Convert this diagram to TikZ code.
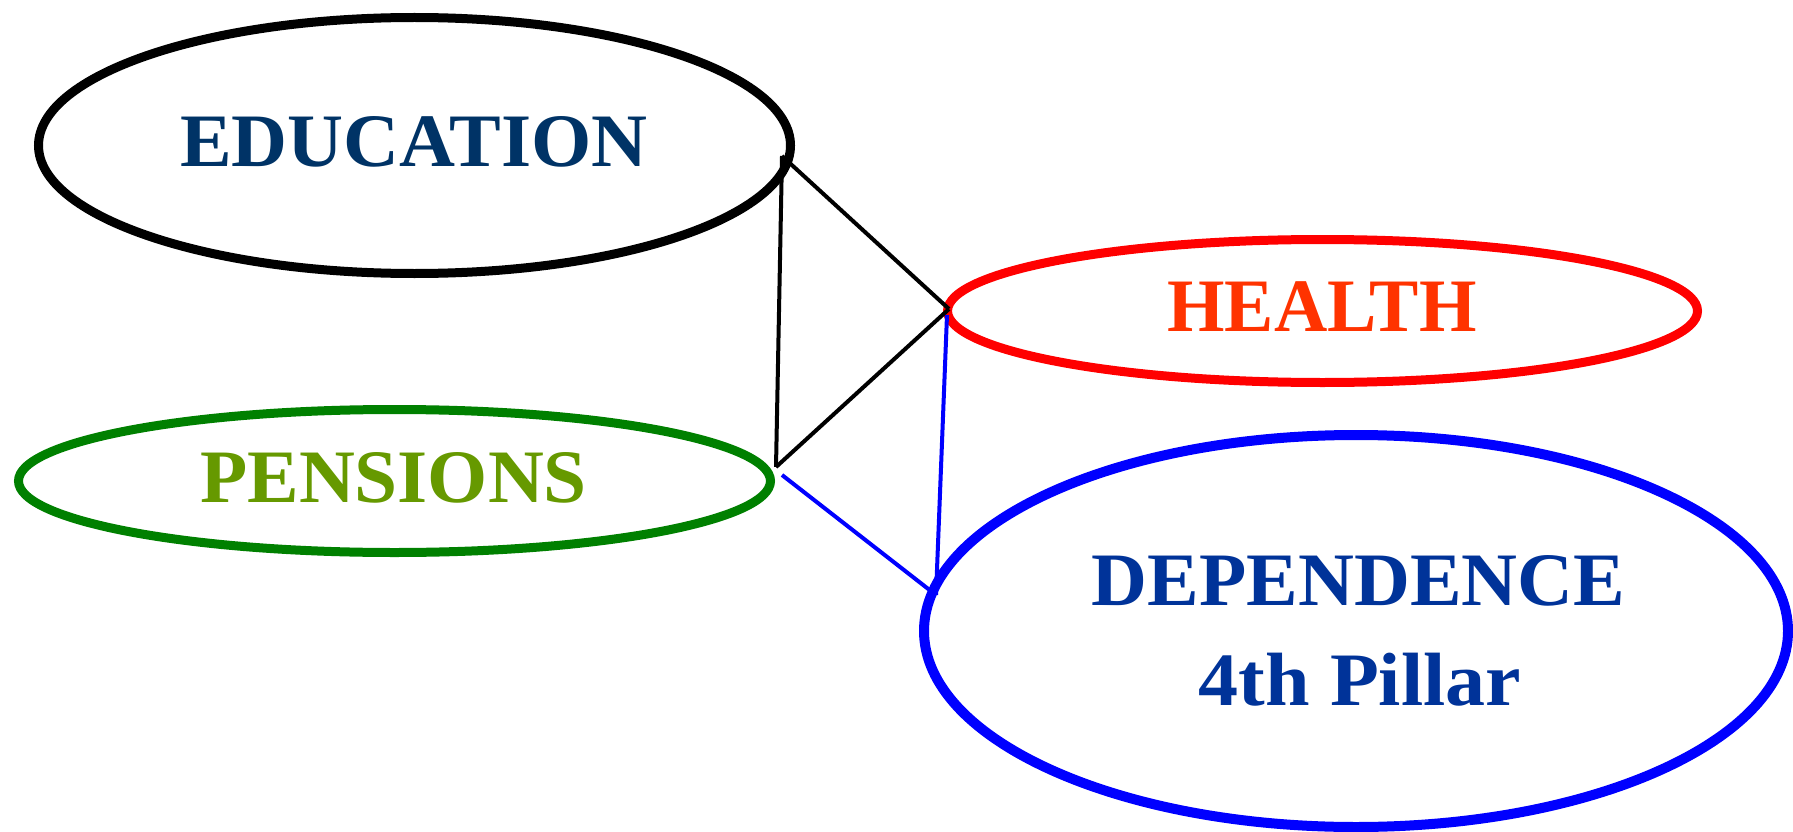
\documentclass[tikz,border=0pt]{standalone}
\usepackage{fontspec}
\usepackage{graphicx}
\setmainfont{Liberation Serif}
\usetikzlibrary{shapes.geometric}
\definecolor{edutext}{HTML}{003366}
\definecolor{healthtext}{HTML}{FF3300}
\definecolor{pentext}{HTML}{669900}
\definecolor{deptext}{HTML}{003399}
\definecolor{healthline}{HTML}{FF0000}
\definecolor{penline}{HTML}{008000}
\definecolor{depline}{HTML}{0000FF}
\tikzset{
  oval/.style={ellipse, draw, line width=9pt, inner sep=0pt},
  lbl/.style={anchor=base, inner sep=0pt, font=\fontsize{75.5}{100}\selectfont\bfseries},
  link/.style={line width=4pt, draw=black},
  bluelink/.style={line width=4pt, draw=depline}
}
\begin{document}
\begin{tikzpicture}[x=1pt,y=-1pt]
\useasboundingbox (0,0) rectangle (1793,832);
% ellipses
\node[oval, draw=black, minimum width=752pt, minimum height=256pt] (edu) at (414.5,145.5) {};
\node[oval, draw=healthline, minimum width=750pt, minimum height=143pt] (hea) at (1322.5,311) {};
\node[oval, draw=penline, minimum width=752pt, minimum height=143pt] (pen) at (394.5,481) {};
\node[oval, draw=depline, line width=10pt, minimum width=864pt, minimum height=392pt] (dep) at (1356,631) {};
% labels
\node[lbl, text=edutext] (edutxt) at (414,166.7) {\scalebox{1.026}[1]{EDUCATION}};
\node[lbl, text=healthtext] (heatxt) at (1322,331.7) {\scalebox{0.978}[1]{HEALTH}};
\node[lbl, text=pentext] (pentxt) at (393.6,502.7) {\scalebox{1.024}[1]{PENSIONS}};
\node[lbl, text=deptext] (deptxt1) at (1358.5,605) {\scalebox{1.025}[1]{DEPENDENCE}};
\node[lbl, text=deptext] (deptxt2) at (1360,705) {\scalebox{1.06}[1]{4th Pillar}};
% connection points
\coordinate (eduP) at (782,156);
\coordinate (heaP) at (949,309);
\coordinate (penP) at (776,467);
\coordinate (penQ) at (782,475);
\coordinate (heaQ) at (947,315);
\coordinate (depP) at (936,595);
% connectors
\draw[link] (eduP) -- (heaP);
\draw[link] (eduP) -- (penP);
\draw[link] (penP) -- (heaP);
\draw[bluelink] (penQ) -- (depP);
\draw[bluelink] (heaQ) -- (depP);
\end{tikzpicture}
\end{document}
